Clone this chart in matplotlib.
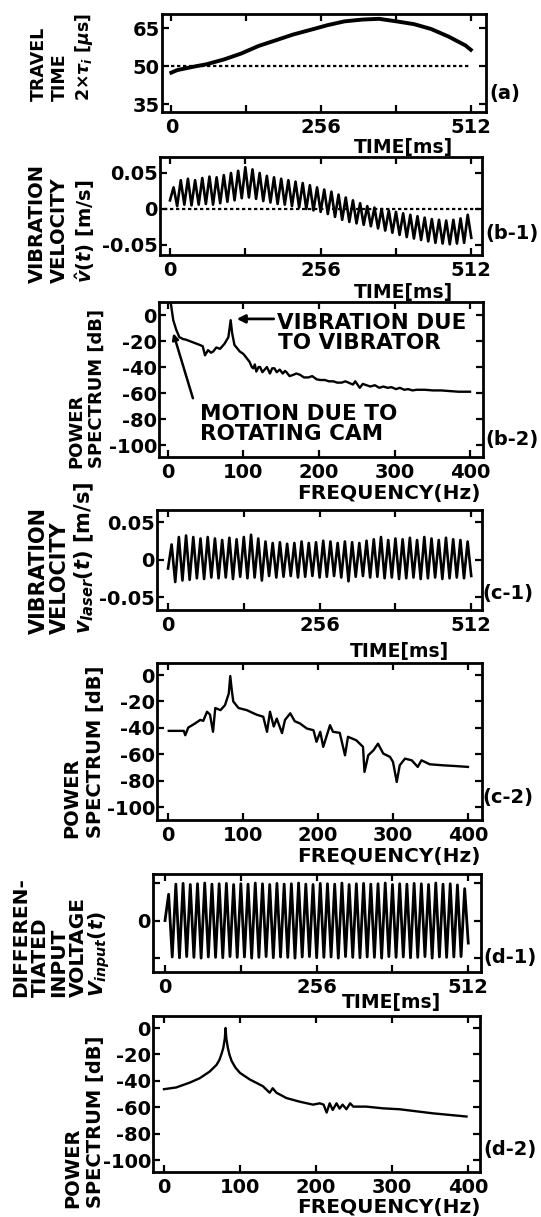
#!/usr/bin/env python3
#
# Travel time, vibration velocity and power spectra (a) .. (d-2)
#
import numpy as np
import matplotlib
matplotlib.use('Agg')
import matplotlib.pyplot as plt

plt.rcParams['font.family'] = ['DejaVu Sans']
plt.rcParams['font.weight'] = 'bold'
plt.rcParams['axes.unicode_minus'] = False
plt.rcParams['mathtext.fontset'] = 'dejavusans'

#
# Data
#
# (a) travel time 2 x tau_i [us]
travel_t = [0, 10, 37, 60, 90, 119, 149, 178, 208, 237, 267, 296, 326, 355,
            385, 415, 444, 474, 503, 512]
travel_us = [47.5, 48.5, 49.8, 50.8, 52.7, 55.0, 58.0, 60.2, 62.5, 64.3,
             66.2, 67.7, 68.4, 68.7, 67.7, 66.6, 64.7, 61.7, 58.2, 56.5]
travel_ref = 50.0

# (b-1) estimated velocity: one peak and one trough per vibration cycle
cycle_ms = 12.2
b1_start = 0.012
b1_peaks = [0.030, 0.040, 0.042, 0.040, 0.043, 0.045, 0.044, 0.047, 0.050,
            0.053, 0.058, 0.055, 0.050, 0.046, 0.044, 0.042, 0.040, 0.038,
            0.036, 0.033, 0.030, 0.027, 0.024, 0.020, 0.016, 0.012, 0.008,
            0.004, 0.002, 0.000, -0.002, -0.004, -0.006, -0.008, -0.010,
            -0.012, -0.014, -0.015, -0.016, -0.015, -0.013, -0.008]
b1_troughs = [0.004, 0.006, 0.005, 0.006, 0.007, 0.006, 0.008, 0.010, 0.012,
              0.015, 0.016, 0.014, 0.011, 0.009, 0.007, 0.006, 0.004, 0.002,
              0.000, -0.002, -0.004, -0.007, -0.011, -0.015, -0.018, -0.020,
              -0.022, -0.024, -0.027, -0.030, -0.033, -0.036, -0.039, -0.041,
              -0.043, -0.045, -0.047, -0.048, -0.049, -0.048, -0.047, -0.040]

# (b-2) power spectrum of (b-1)
b2_hz = [3, 7, 11, 15, 20, 24, 33, 42, 46, 49, 53, 57, 60, 64, 69, 75, 80,
         83, 85, 88, 95, 100, 104, 108, 111, 113, 115, 117, 120, 122, 125,
         128, 131, 135, 138, 141, 144, 148, 152, 155, 157, 161, 166, 170,
         175, 180, 186, 191, 197, 202, 208, 213, 219, 224, 230, 235, 241,
         245, 248, 254, 258, 263, 268, 274, 280, 285, 291, 296, 302, 307,
         313, 318, 324, 329, 340, 351, 362, 373, 385, 400]
b2_db = [12, -4, -11.5, -17, -18.5, -19, -21, -23, -24, -31, -27, -29, -28,
         -25, -26, -22, -17, -4, -14, -23, -28, -30, -33, -36, -40, -41, -38,
         -43.5, -40, -40, -44, -42, -40, -45, -41, -41, -44, -42, -45, -43,
         -44, -47, -46, -45, -46, -48, -48, -47, -49.5, -50, -50, -51, -51,
         -52, -52, -51, -52.5, -53.5, -51, -56, -53, -54, -55, -54, -56, -55,
         -56, -55.5, -57, -56, -57.5, -57, -58, -57.5, -57.5, -58, -58,
         -58.5, -59, -59]

# (c-1) laser measured velocity
c1_start = -0.012
c1_peaks = [0.020, 0.030, 0.032, 0.030, 0.028, 0.030, 0.028, 0.026, 0.029,
            0.027, 0.030, 0.033, 0.028, 0.024, 0.022, 0.023, 0.021, 0.022,
            0.024, 0.022, 0.023, 0.025, 0.024, 0.022, 0.024, 0.023, 0.022,
            0.025, 0.027, 0.030, 0.026, 0.028, 0.027, 0.029, 0.026, 0.030,
            0.028, 0.026, 0.029, 0.027, 0.026, 0.024]
c1_troughs = [-0.030, -0.028, -0.027, -0.025, -0.026, -0.024, -0.025, -0.024,
              -0.026, -0.023, -0.025, -0.024, -0.028, -0.022, -0.024, -0.023,
              -0.022, -0.024, -0.023, -0.022, -0.024, -0.023, -0.022, -0.024,
              -0.029, -0.023, -0.022, -0.024, -0.023, -0.025, -0.024, -0.026,
              -0.025, -0.024, -0.026, -0.025, -0.024, -0.026, -0.025, -0.024,
              -0.025, -0.022]

# (c-2) power spectrum of (c-1)
c2_hz = [1, 21, 23, 27, 36, 43, 47, 52, 56, 60, 63, 70, 76, 81, 83, 85, 87,
         94, 105, 118, 127, 132, 136, 141, 145, 152, 156, 163, 169, 176, 185,
         194, 198, 203, 207, 216, 220, 229, 236, 240, 251, 260, 262, 267,
         274, 280, 287, 296, 300, 305, 309, 316, 325, 333, 338, 349, 367,
         385, 400]
c2_db = [-42.3, -42.3, -45.6, -39.8, -36.7, -34, -34.7, -27.8, -30, -43,
         -25, -26.6, -22.8, -14, -0.8, -11.4, -20, -25, -26.6, -30, -31.6,
         -43, -27.8, -39, -33, -44, -34, -29, -35, -36.7, -40.5, -41.8,
         -50.6, -43, -54.4, -38, -43, -43.8, -60.8, -46.8, -49.4, -54.4,
         -73.4, -60.8, -57, -52, -59.5, -62, -65.8, -81, -68.4, -63.3, -64.6,
         -69.6, -64.6, -67.6, -68.4, -69, -69.6]

# (d-1) differentiated input voltage (arbitrary units)
d1_start = 0.0
d1_peaks = [0.70, 0.97, 0.99, 0.96, 0.98, 1.00, 0.97, 0.98, 0.99, 0.96,
            0.98, 0.97, 1.00, 0.98, 0.96, 0.99, 0.97, 0.98, 1.00, 0.97,
            0.96, 0.99, 0.98, 0.97, 1.00, 0.96, 0.98, 0.99, 0.97, 0.98,
            1.00, 0.96, 0.98, 0.97, 0.99, 0.98, 0.96, 1.00, 0.97, 0.98,
            0.95, 0.85]
d1_troughs = [-0.97, -0.99, -0.96, -0.98, -1.00, -0.97, -0.98, -0.99, -0.96,
              -0.98, -0.97, -1.00, -0.98, -0.96, -0.99, -0.97, -0.98, -1.00,
              -0.97, -0.96, -0.99, -0.98, -0.97, -1.00, -0.96, -0.98, -0.99,
              -0.97, -0.98, -1.00, -0.96, -0.98, -0.97, -0.99, -0.98, -0.96,
              -1.00, -0.97, -0.98, -0.97, -0.96, -0.60]

# (d-2) power spectrum of (d-1)
d2_hz = [0, 16, 34, 47, 60, 69, 73, 76, 78, 80, 81, 82, 84, 86, 89, 94, 100,
         113, 130, 139, 143, 148, 161, 178, 196, 205, 210, 214, 218, 222,
         227, 231, 235, 240, 245, 249, 266, 288, 310, 354, 398]
d2_db = [-46.3, -45, -41.3, -38, -33, -28, -24, -19, -15, -8, 0, -8, -15,
         -20, -25, -30, -34, -39, -44, -49, -45.6, -49, -53, -55.7, -58, -57,
         -58, -64, -57, -62, -57, -61, -58, -61.5, -57, -59.5, -59.5, -60.8,
         -61.5, -64.6, -67]

time_ticks = [0, 128, 256, 384, 512]
time_labels = ['0', '', '256', '', '512']
freq_ticks = [0, 100, 200, 300, 400]
freq_labels = ['0', '100', '200', '300', '400']
db_ticks = [0, -20, -40, -60, -80, -100]
db_labels = ['0', '-20', '-40', '-60', '-80', '-100']
vel_ticks = [-0.05, 0, 0.05]
vel_labels = ['-0.05', '0', '0.05']


def zigzag(start, peaks, troughs):
    """ Interleave read peaks and troughs into one trace """
    y = [start]
    for p, q in zip(peaks, troughs):
        y += [p, q]
    t = np.arange(len(y)) * cycle_ms / 2
    return t, np.array(y)


#
# Create figure (pixel layout of the original scan)
#
W, H = 541, 1217
fig = plt.figure(figsize=(W / 100, H / 100), dpi=100)


def box(x0, y0, x1, y1):
    """ Axes from pixel box (top-left origin) """
    ax = fig.add_axes([x0 / W, 1 - y1 / H, (x1 - x0) / W, (y1 - y0) / H])
    for s in ax.spines.values():
        s.set_linewidth(2.0)
    ax.tick_params(direction='in', top=True, right=True, length=5,
                   width=1.6, labelsize=14)
    ax.tick_params(axis='x', pad=4)
    ax.tick_params(axis='y', pad=1.5)
    return ax


def ftext(x, y, s, **kw):
    fig.text(x / W, 1 - y / H, s, **kw)


def ylabel(xs, ybot, lines, size):
    for x, s in zip(xs, lines):
        ftext(x, ybot, s, rotation=90, ha='center', va='bottom',
              fontsize=size, fontweight='bold')


def time_axis(ax, lo, hi):
    ax.set_xlim(lo, hi)
    ax.set_xticks(time_ticks, labels=time_labels)


def freq_axis(ax, lo, hi, ylo, yhi):
    ax.set_xlim(lo, hi)
    ax.set_xticks(freq_ticks, labels=freq_labels)
    ax.set_ylim(ylo, yhi)
    ax.set_yticks(db_ticks, labels=db_labels)


#
# (a) Travel time
#
ax = box(162, 14, 486, 112)
ax.plot(travel_t, travel_us, color='k', lw=2.8)
ax.hlines(travel_ref, 0, 512, colors='k', lw=1.6, linestyles=(0, (1.5, 1.2)))
time_axis(ax, -16, 538)
ax.set_ylim(32, 70.6)
ax.set_yticks([35, 50, 65])
ylabel([39, 60, 84], 101, ['TRAVEL', 'TIME', '2×$\\tau_i$ [$\\mu$s]'], 12.5)
ftext(404, 153, 'TIME[ms]', ha='center', va='baseline', fontsize=13.5)
ftext(505, 94, '(a)', ha='center', va='center', fontsize=14)

#
# (b-1) Estimated vibration velocity
#
ax = box(160, 157, 482, 255)
t, y = zigzag(b1_start, b1_peaks, b1_troughs)
ax.plot(t, y, color='k', lw=1.9)
ax.hlines(0, -10, 526, colors='k', lw=1.6, linestyles=(0, (1.5, 1.2)))
time_axis(ax, -17, 530.6)
ax.set_ylim(-0.0639, 0.0722)
ax.set_yticks(vel_ticks, labels=vel_labels)
ylabel([37, 59, 85], 283, ['VIBRATION', 'VELOCITY', '$\\hat{v}(t)$ [m/s]'],
       14)
ftext(404, 298, 'TIME[ms]', ha='center', va='baseline', fontsize=13.5)
ftext(512, 233, '(b-1)', ha='center', va='center', fontsize=14)

#
# (b-2) Power spectrum of (b-1)
#
ax = box(159, 302, 483, 457)
ax.plot(b2_hz, b2_db, color='k', lw=1.7)
freq_axis(ax, -11.9, 417.2, -109.2, 10)
ax.annotate('', xy=(91, -3), xytext=(140, -3),
            arrowprops=dict(arrowstyle='-|>', color='k', lw=2.0,
                            mutation_scale=12, shrinkA=0, shrinkB=0))
ax.annotate('', xy=(7, -14), xytext=(33, -64),
            arrowprops=dict(arrowstyle='-|>', color='k', lw=1.8,
                            mutation_scale=9, shrinkA=0, shrinkB=0))
ftext(277, 329, 'VIBRATION DUE', ha='left', va='baseline', fontsize=15.5)
ftext(278, 349, 'TO VIBRATOR', ha='left', va='baseline', fontsize=15.5)
ftext(200, 420, 'MOTION DUE TO', ha='left', va='baseline', fontsize=15.5)
ftext(200, 440, 'ROTATING CAM', ha='left', va='baseline', fontsize=15.5)
ylabel([76, 97], 468, ['POWER', 'SPECTRUM [dB]'], 13)
ftext(389, 499, 'FREQUENCY(Hz)', ha='center', va='baseline', fontsize=14.5)
ftext(512, 440, '(b-2)', ha='center', va='center', fontsize=14)

#
# (c-1) Laser measured vibration velocity
#
ax = box(157, 510, 482, 610)
t, y = zigzag(c1_start, c1_peaks, c1_troughs)
ax.plot(t, y, color='k', lw=1.9)
time_axis(ax, -18.6, 530.6)
ax.set_ylim(-0.0673, 0.066)
ax.set_yticks(vel_ticks, labels=vel_labels)
ylabel([39, 60, 84], 634,
       ['VIBRATION', 'VELOCITY', '$v_{laser}(t)$ [m/s]'], 15)
ftext(399, 657, 'TIME[ms]', ha='center', va='baseline', fontsize=13.5)
ftext(508, 594, '(c-1)', ha='center', va='center', fontsize=14)

#
# (c-2) Power spectrum of (c-1)
#
ax = box(157, 663, 482, 820)
ax.plot(c2_hz, c2_db, color='k', lw=1.7)
freq_axis(ax, -14.7, 418.7, -109.8, 9.1)
ylabel([72, 96], 838, ['POWER', 'SPECTRUM [dB]'], 14)
ftext(389, 862, 'FREQUENCY(Hz)', ha='center', va='baseline', fontsize=14.5)
ftext(508, 798, '(c-2)', ha='center', va='center', fontsize=14)

#
# (d-1) Differentiated input voltage
#
ax = box(153, 874, 481, 972)
t, y = zigzag(d1_start, d1_peaks, d1_troughs)
ax.plot(t, y, color='k', lw=2.0)
time_axis(ax, -20.3, 533.9)
ax.set_ylim(-1.37, 1.24)
ax.set_yticks([-1, 0, 1], labels=['', '0', ''])
ylabel([21, 40, 59, 78, 99], 997,
       ['DIFFEREN-', 'TIATED', 'INPUT', 'VOLTAGE', '$V_{input}(t)$'], 14.5)
ftext(392, 1008, 'TIME[ms]', ha='center', va='baseline', fontsize=13.5)
ftext(510, 957, '(d-1)', ha='center', va='center', fontsize=14)

#
# (d-2) Power spectrum of (d-1)
#
ax = box(153, 1016, 480, 1172)
ax.plot(d2_hz, d2_db, color='k', lw=1.7)
freq_axis(ax, -14.5, 415.8, -109, 9.1)
ylabel([73, 96], 1208, ['POWER', 'SPECTRUM [dB]'], 14)
ftext(389, 1213, 'FREQUENCY(Hz)', ha='center', va='baseline', fontsize=14.5)
ftext(510, 1150, '(d-2)', ha='center', va='center', fontsize=14)

fig.savefig('out.png', dpi=100)
